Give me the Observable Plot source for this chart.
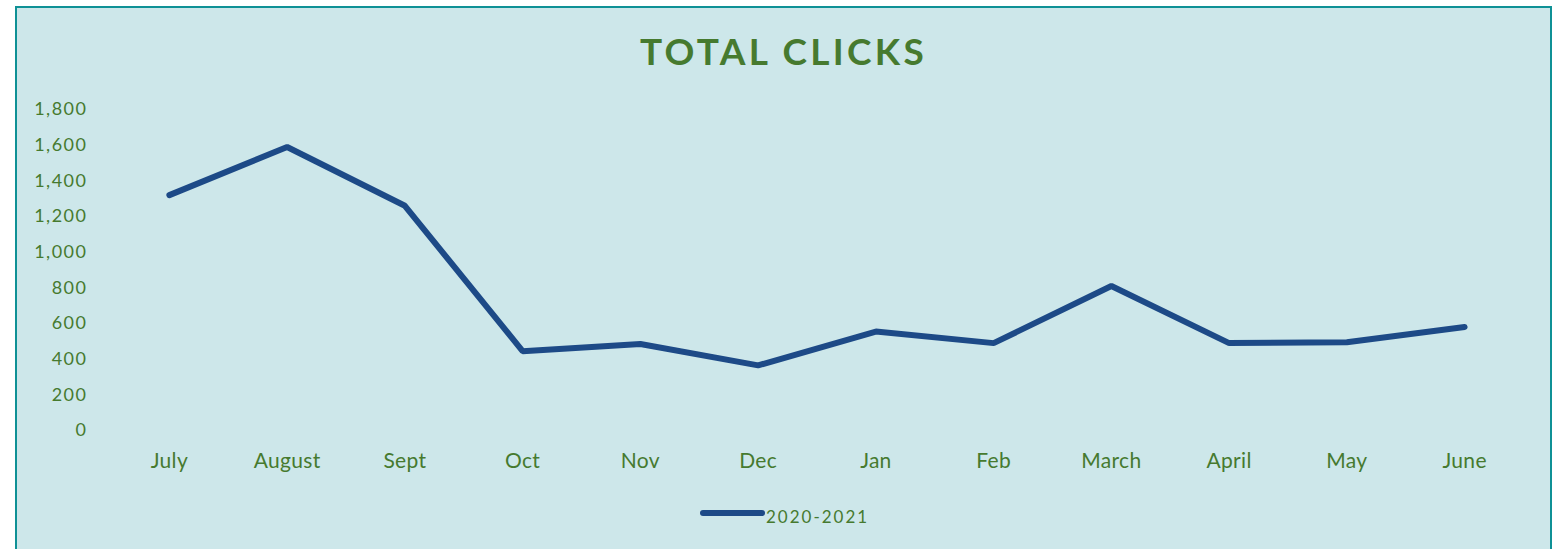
<!DOCTYPE html>
<html>
<head>
<meta charset="utf-8">
<script src="https://cdn.jsdelivr.net/npm/d3@7"></script>
<script src="https://cdn.jsdelivr.net/npm/@observablehq/plot@0.6"></script>
<style>
  html, body { margin: 0; padding: 0; background: #ffffff; overflow: hidden; width: 1554px; height: 549px; }
  #frame { position: absolute; left: 15px; top: 6px; width: 1533px; height: 560px;
           border: 2px solid #0f9196; background: #cde7ea; font-family: Lato, "Open Sans", sans-serif; }
  #title { position: absolute; left: 0; width: 100%; top: 24px; text-align: center;
           font-size: 37px; font-weight: 700; letter-spacing: 3.3px; color: #467a2f; line-height: 1; }
  #chart { position: absolute; left: 0; top: 82px; }
  #chart svg { letter-spacing: 1.5px; }
  #legend { position: absolute; left: 0; top: 0; }
</style>
</head>
<body>
<div id="frame">
  <div id="title">TOTAL CLICKS</div>
  <div id="chart"></div>
  <svg id="legend" width="1533" height="560"></svg>
</div>
<script>
const months = ["July","August","Sept","Oct","Nov","Dec","Jan","Feb","March","April","May","June"];
const clicks = [1320, 1590, 1260, 445, 485, 365, 555, 490, 810, 490, 495, 580];
const yTicks = [0, 200, 400, 600, 800, 1000, 1200, 1400, 1600, 1800];
const seriesName = "2020-2021";

const green = "#467a2f";
const blue = "#1d4a87";

const data = months.map((m, i) => ({month: m, value: clicks[i]}));

const chart = Plot.plot({
  width: 1533,
  height: 390,
  marginLeft: 93,
  marginRight: 27,
  marginTop: 19,
  marginBottom: 50,
  style: {background: "transparent", color: green, fontFamily: "Lato, 'Open Sans', sans-serif"},
  x: {type: "point", domain: months, padding: 0.5, round: false},
  y: {domain: [0, 1800]},
  marks: [
    Plot.axisY({ticks: yTicks, tickSize: 0, tickPadding: 23, tickFormat: d3.format(","), fontSize: 18, fill: green, label: null}),
    Plot.axisX({tickSize: 0, tickPadding: 23, fontSize: 21, fill: green, label: null}),
    Plot.line(data, {x: "month", y: "value", stroke: blue, strokeWidth: 6, strokeLinecap: "round", strokeLinejoin: "miter"})
  ]
});
document.getElementById("chart").appendChild(chart);
d3.select(chart).selectAll("g[aria-label='x-axis tick label'] text").style("letter-spacing", "0.3px");

// legend (page coords minus frame origin 17,8)
const lg = d3.select("#legend");
lg.append("line").attr("x1", 703 - 17).attr("x2", 762 - 17).attr("y1", 513 - 8).attr("y2", 513 - 8)
  .attr("stroke", blue).attr("stroke-width", 6).attr("stroke-linecap", "round");
lg.append("text").attr("x", 766 - 17).attr("y", 523 - 8).text(seriesName)
  .attr("fill", green).attr("font-size", 17).attr("letter-spacing", "2px")
  .attr("font-family", "Lato, 'Open Sans', sans-serif");
</script>
</body>
</html>
